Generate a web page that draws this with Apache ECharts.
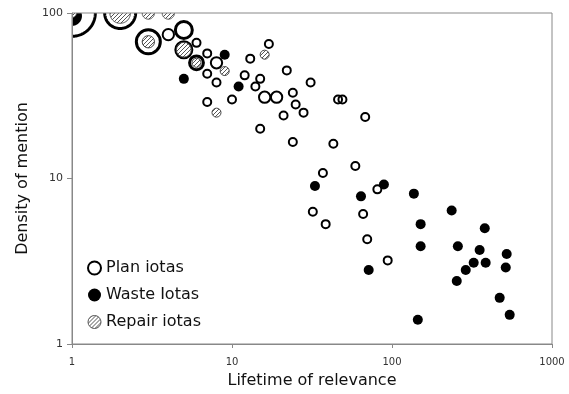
<!DOCTYPE html>
<html>
<head>
<meta charset="utf-8">
<script src="https://cdn.jsdelivr.net/npm/echarts@6/dist/echarts.min.js"></script>
<style>
  html, body { margin: 0; padding: 0; background: #fff; }
  #chart { width: 569px; height: 394px; }
</style>
</head>
<body>
<div id="chart"></div>
<script>
// [lifetime, density, number of iotas at that spot]
const planIotas = [
  [1, 100, 34], [2, 100, 15], [3, 67, 9], [4, 74, 2], [5, 79, 4.5], [5, 60, 4],
  [6, 66, 1], [6, 50, 3], [7, 57, 1], [8, 50, 2], [7, 43, 1], [8, 38, 1],
  [7, 29, 1], [10, 30, 1], [12, 42, 1], [13, 53, 1], [17, 65, 1], [15, 40, 1],
  [14, 36, 1], [22, 45, 1], [16, 31, 2], [19, 31, 2], [24, 33, 1], [25, 28, 1],
  [28, 25, 1], [21, 24, 1], [31, 38, 1], [15, 20, 1], [24, 16.6, 1], [46, 30, 1],
  [49, 30, 1], [68, 23.5, 1], [43, 16.2, 1], [59, 11.9, 1], [37, 10.8, 1],
  [81, 8.6, 1], [32, 6.3, 1], [38.5, 5.3, 1], [66, 6.1, 1], [70, 4.3, 1], [94, 3.2, 1]
];
const wasteIotas = [
  [1, 96, 5], [9, 56, 1], [5, 40, 1], [11, 36, 1], [33, 9.0, 1], [64, 7.8, 1],
  [89, 9.2, 1], [137, 8.1, 1], [236, 6.4, 1], [151, 5.3, 1], [380, 5.0, 1],
  [151, 3.9, 1], [258, 3.9, 1], [353, 3.7, 1], [521, 3.5, 1], [324, 3.1, 1],
  [385, 3.1, 1], [514, 2.9, 1], [289, 2.8, 1], [71.5, 2.8, 1], [254, 2.4, 1],
  [471, 1.9, 1], [544, 1.5, 1], [145, 1.4, 1]
];
const repairIotas = [
  [1, 100, 1], [2, 100, 6], [3, 100, 2], [4, 100, 2], [3, 67, 2], [5, 60, 3],
  [6, 50, 1], [9, 44.6, 1], [8, 25, 1], [16, 56, 1]
];
const seriesNames = ['Plan iotas', 'Waste Iotas', 'Repair iotas'];
const xTicks = [1, 10, 100, 1000];
const yTicks = [1, 10, 100];

const FONT = 'DejaVu Sans';
const GRID = { left: 72, right: 17, top: 13, bottom: 49 };

// diagonal hatch fill for the repair markers
const hatchCanvas = document.createElement('canvas');
hatchCanvas.width = 4;
hatchCanvas.height = 4;
const hctx = hatchCanvas.getContext('2d');
hctx.fillStyle = '#fff';
hctx.fillRect(0, 0, 4, 4);
hctx.strokeStyle = '#555';
hctx.lineWidth = 1;
hctx.beginPath();
hctx.moveTo(-1, 5); hctx.lineTo(5, -1);
hctx.moveTo(-1, 1); hctx.lineTo(1, -1);
hctx.moveTo(3, 5); hctx.lineTo(5, 3);
hctx.stroke();
const hatch = { image: hatchCanvas, repeat: 'repeat' };

function radius(n) {
  return 4 * Math.sqrt(n);
}

function clamp(v, a, b) {
  return Math.max(a, Math.min(b, v));
}

// circle marker, cut at the plot frame the way the original chart cuts them
function clippedCircle(cx, cy, r, fill, stroke, lw, cs) {
  const x0 = cs.x, y0 = cs.y, x1 = cs.x + cs.width, y1 = cs.y + cs.height;
  if (cx - r >= x0 && cx + r <= x1 && cy - r >= y0 && cy + r <= y1) {
    return {
      type: 'circle',
      shape: { cx: cx, cy: cy, r: r },
      style: { fill: fill || 'none', stroke: stroke || 'none', lineWidth: lw }
    };
  }
  const N = 180;
  const ring = [];
  for (let i = 0; i < N; i++) {
    const a = (2 * Math.PI * i) / N;
    ring.push([cx + r * Math.cos(a), cy + r * Math.sin(a)]);
  }
  const children = [];
  if (fill) {
    children.push({
      type: 'polygon',
      shape: { points: ring.map(p => [clamp(p[0], x0, x1), clamp(p[1], y0, y1)]) },
      style: { fill: fill, stroke: 'none' }
    });
  }
  if (stroke) {
    const inside = ring.map(p => p[0] >= x0 && p[0] <= x1 && p[1] >= y0 && p[1] <= y1);
    let start = -1;
    for (let i = 0; i < N; i++) {
      if (inside[i] && !inside[(i - 1 + N) % N]) { start = i; break; }
    }
    if (start >= 0) {
      let run = [];
      for (let k = 0; k <= N; k++) {
        const i = (start + k) % N;
        if (inside[i] && k < N) {
          run.push(ring[i]);
        } else {
          if (run.length > 1) {
            children.push({
              type: 'polyline',
              shape: { points: run },
              style: { fill: 'none', stroke: stroke, lineWidth: lw }
            });
          }
          run = [];
        }
      }
    }
  }
  return { type: 'group', children: children };
}

function circleRenderer(styleFor) {
  return function (params, api) {
    const p = api.coord([api.value(0), api.value(1)]);
    const s = styleFor(api.value(2));
    return clippedCircle(p[0], p[1], s.r, s.fill, s.stroke, s.lineWidth, params.coordSys);
  };
}

const chart = echarts.init(document.getElementById('chart'));

chart.setOption({
  animation: false,
  backgroundColor: '#fff',
  textStyle: { fontFamily: FONT },
  grid: Object.assign({
    show: true, borderColor: '#888', borderWidth: 1,
    backgroundColor: 'transparent', z: 200
  }, GRID),
  // white masks over the margins, under the axes
  graphic: [
    { type: 'rect', z: 100, silent: true, shape: { x: 0, y: 0, width: 569, height: GRID.top }, style: { fill: '#fff' } },
    { type: 'rect', z: 100, silent: true, shape: { x: 0, y: 0, width: GRID.left, height: 394 }, style: { fill: '#fff' } }
  ],
  legend: {
    orient: 'vertical',
    left: 87, top: 260,
    padding: 0,
    itemWidth: 13, itemHeight: 13, itemGap: 11,
    textStyle: { fontFamily: FONT, fontSize: 16, color: '#111' },
    data: [
      { name: seriesNames[0], icon: 'circle', itemStyle: { color: '#fff', borderColor: '#000', borderWidth: 2 } },
      { name: seriesNames[1], icon: 'circle', itemStyle: { color: '#000', borderWidth: 0 } },
      { name: seriesNames[2], icon: 'circle', itemStyle: { color: hatch, borderColor: '#555', borderWidth: 1 } }
    ]
  },
  xAxis: {
    type: 'log', logBase: 10, min: xTicks[0], max: xTicks[xTicks.length - 1], z: 200,
    name: 'Lifetime of relevance', nameLocation: 'middle', nameGap: 29,
    nameTextStyle: { fontFamily: FONT, fontSize: 16, color: '#111' },
    axisLine: { lineStyle: { color: '#888', width: 1 } },
    axisTick: { show: true, length: 4, lineStyle: { color: '#888' } },
    minorTick: { show: false },
    splitLine: { show: false },
    axisLabel: {
      margin: 13, fontSize: 10, color: '#333', fontFamily: FONT,
      formatter: v => (xTicks.indexOf(Math.round(v)) >= 0 ? String(Math.round(v)) : '')
    }
  },
  yAxis: {
    type: 'log', logBase: 10, min: yTicks[0], max: yTicks[yTicks.length - 1], z: 200,
    name: 'Density of mention', nameLocation: 'middle', nameGap: 39, nameRotate: 90,
    nameTextStyle: { fontFamily: FONT, fontSize: 16, color: '#111' },
    axisLine: { show: true, lineStyle: { color: '#888', width: 1 } },
    axisTick: { show: true, length: 5, lineStyle: { color: '#888' } },
    splitLine: { show: false },
    axisLabel: {
      margin: 9, fontSize: 11, color: '#333', fontFamily: FONT,
      formatter: v => (yTicks.indexOf(Math.round(v)) >= 0 ? String(Math.round(v)) : '')
    }
  },
  series: [
    {
      name: seriesNames[0], type: 'custom',
      itemStyle: { color: '#fff', borderColor: '#000' },
      encode: { x: 0, y: 1 },
      data: planIotas,
      renderItem: circleRenderer(n => ({
        r: radius(n), fill: null, stroke: '#000', lineWidth: n >= 3 ? 3 : 2
      }))
    },
    {
      name: seriesNames[1], type: 'custom',
      itemStyle: { color: '#000' },
      encode: { x: 0, y: 1 },
      data: wasteIotas,
      renderItem: circleRenderer(n => ({
        r: radius(n) + 1, fill: '#000', stroke: null, lineWidth: 0
      }))
    },
    {
      name: seriesNames[2], type: 'custom',
      itemStyle: { color: '#888' },
      encode: { x: 0, y: 1 },
      data: repairIotas,
      renderItem: circleRenderer(n => ({
        r: radius(n) + 0.5, fill: hatch, stroke: '#444', lineWidth: 1
      }))
    }
  ]
});
</script>
</body>
</html>
